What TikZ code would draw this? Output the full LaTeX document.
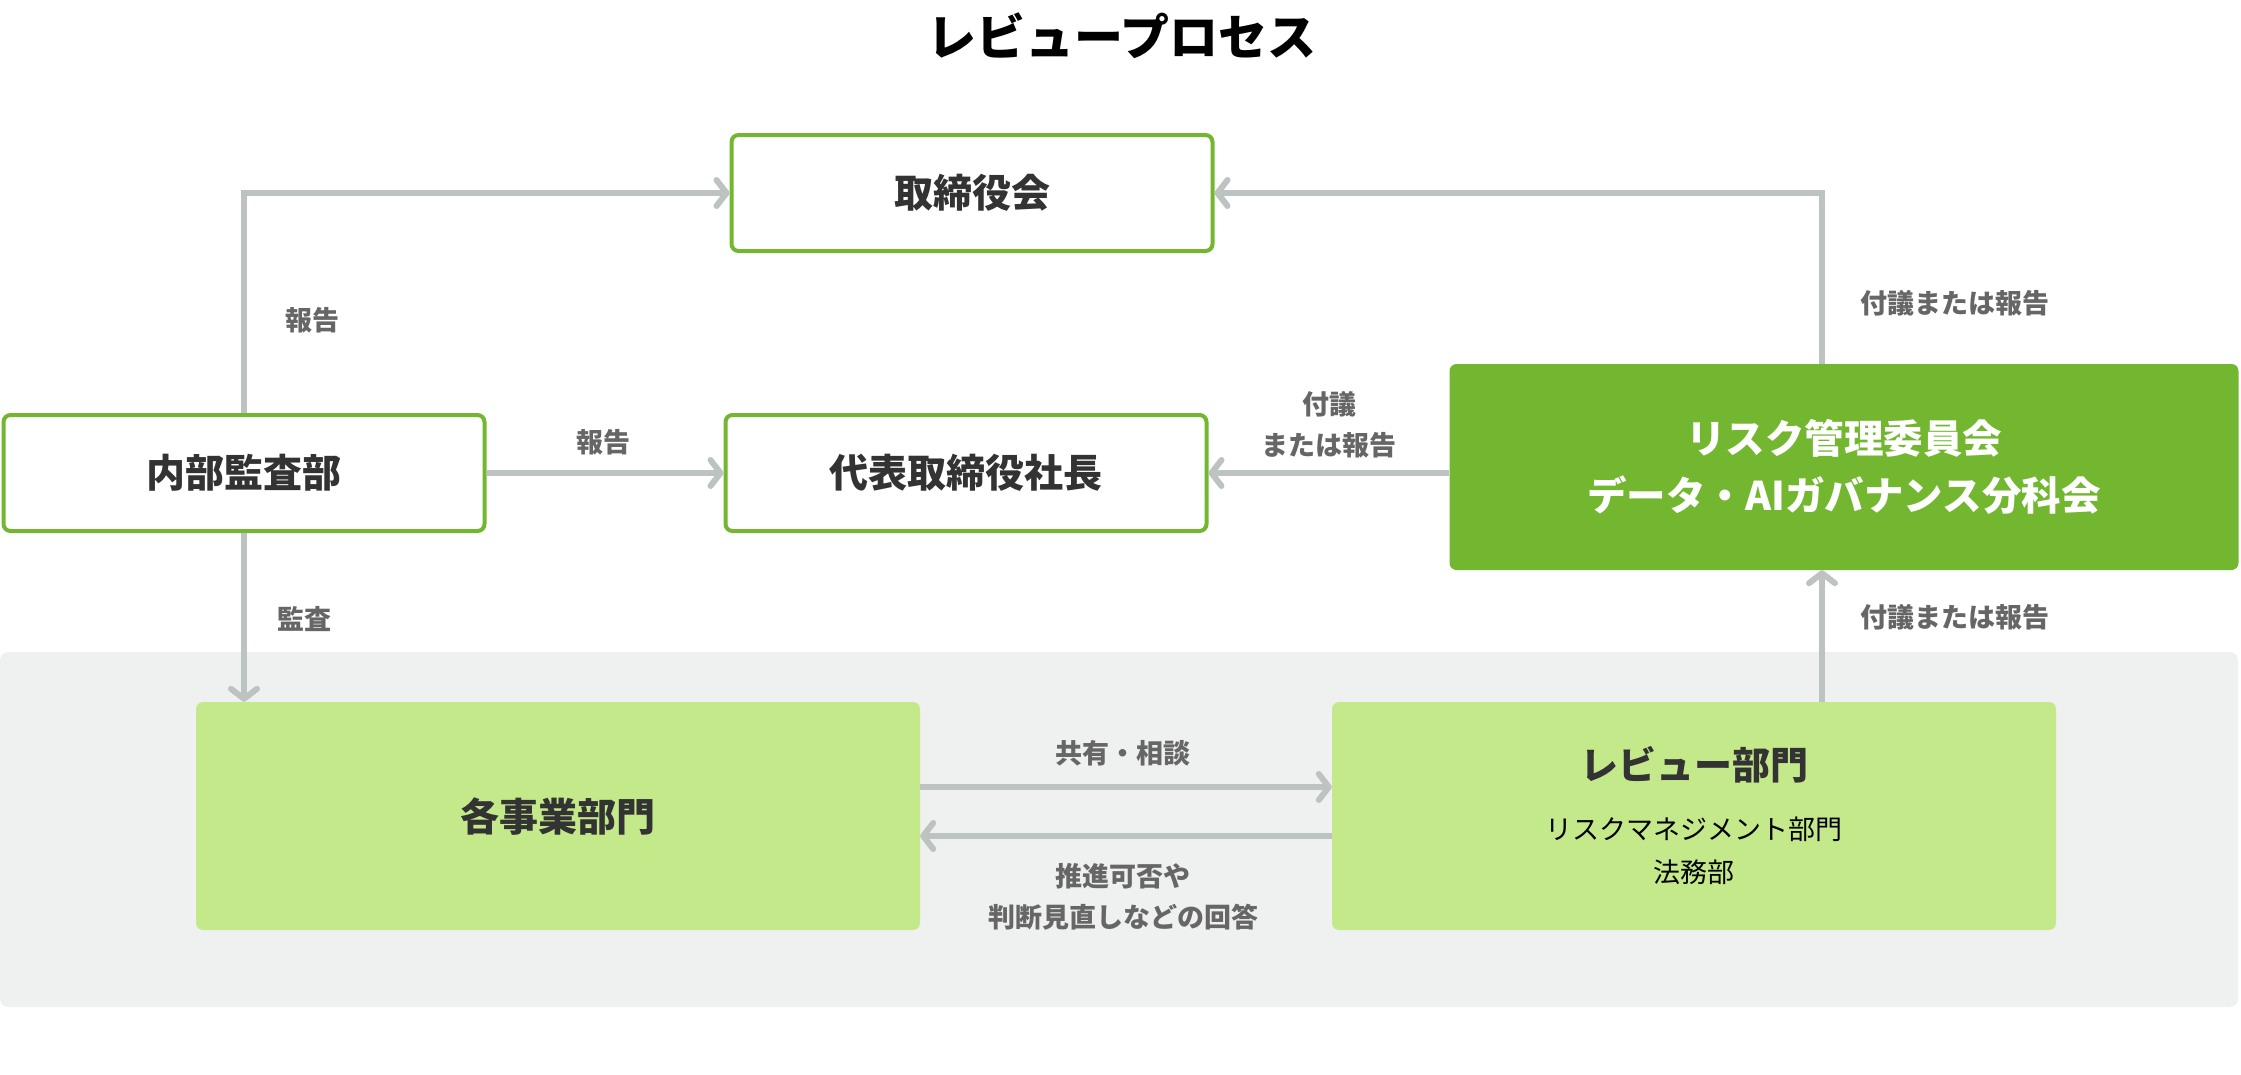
\documentclass[tikz,border=0pt]{standalone}
\usepackage{fontspec}
\setmainfont{Noto Sans CJK JP}
\usetikzlibrary{arrows.meta}

\definecolor{leaf}{HTML}{72B72F}
\definecolor{lime}{HTML}{C3E98A}
\definecolor{mist}{HTML}{EFF1F0}
\definecolor{wire}{HTML}{BCC3C0}
\definecolor{ink}{HTML}{333333}
\definecolor{note}{HTML}{666666}

\tikzstyle{head} = [text=black, font=\fontsize{49}{56}\selectfont\bfseries]
\tikzstyle{orgbox} = [draw=leaf, line width=4pt, fill=white, rounded corners=7pt, minimum width=481pt, minimum height=116pt, inner sep=0pt, text=ink, font=\fontsize{39}{50}\selectfont\bfseries]
\tikzstyle{council} = [fill=leaf, rounded corners=7pt, minimum width=789pt, minimum height=206pt, inner sep=0pt, align=center, text=white, font=\fontsize{39.5}{57}\selectfont\bfseries]
\tikzstyle{dept} = [fill=lime, rounded corners=7pt, minimum width=724pt, minimum height=228pt, inner sep=0pt, align=center, text=ink, font=\fontsize{39}{50}\selectfont\bfseries]
\tikzstyle{tag} = [text=note, align=center, font=\fontsize{27}{41}\selectfont\bfseries]
\tikzstyle{flow} = [draw=wire, line width=6pt, -{Straight Barb[length=10pt, width=26pt, round]}]

\begin{document}
\begin{tikzpicture}[x=1pt, y=-1pt]
  \useasboundingbox (0,0) rectangle (2241,1074);
  \fill[mist, rounded corners=8pt] (0,652) rectangle (2238,1007);

  \node[head] (title) at (1122,36) {レビュープロセス};

  \node[orgbox] (board) at (972,193) {取締役会};
  \node[orgbox] (audit) at (244,473) {内部監査部};
  \node[orgbox] (ceo) at (966,473) {代表取締役社長};
  \node[council] (risk) at (1844,467) {リスク管理委員会\\データ・AIガバナンス分科会};
  \node[dept] (biz) at (558,816) {各事業部門};
  \node[dept, font=\fontsize{27}{43}\selectfont\mdseries, text=black] (review) at (1694,816)
    {{\fontsize{38}{46}\selectfont\bfseries\color{ink}レビュー部門}\\[17pt]リスクマネジメント部門\\法務部};
  \coordinate (rx) at (1822,0);

  \draw[flow] (audit.north) |- (board.west);
  \draw[flow] (audit.east) -- (ceo.west);
  \draw[flow] (audit.south) -- (audit.south |- biz.north);
  \draw[flow] (risk.north -| rx) |- (board.east);
  \draw[flow] (ceo.east -| risk.west) -- (ceo.east);
  \draw[flow] (review.north -| rx) -- (risk.south -| rx);
  \draw[flow] ([yshift=29pt]biz.east) -- ([yshift=29pt]review.west);
  \draw[flow] ([yshift=-20pt]review.west) -- ([yshift=-20pt]biz.east);

  \node[tag] (t1) at (312,320) {報告};
  \node[tag] (t2) at (603,442) {報告};
  \node[tag] (t3) at (304,619) {監査};
  \node[tag] (t4) at (1955,303) {付議または報告};
  \node[tag] (t5) at (1329,425) {付議\\または報告};
  \node[tag] (t6) at (1955,617) {付議または報告};
  \node[tag] (t7) at (1123,753) {共有・相談};
  \node[tag] (t8) at (1123,897) {推進可否や\\判断見直しなどの回答};
\end{tikzpicture}
\end{document}
